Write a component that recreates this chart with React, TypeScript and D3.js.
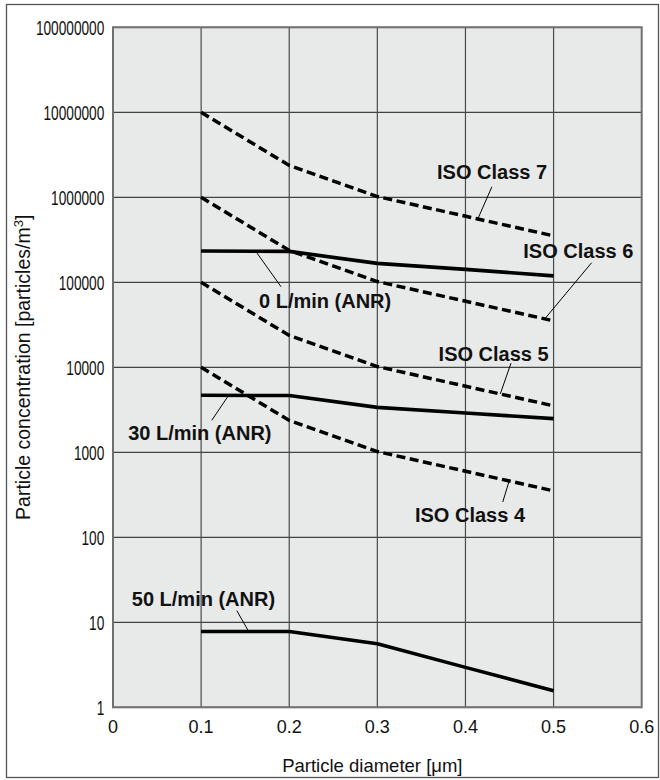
import React from "react";
import * as d3 from "d3";

// ---------- data ----------
const diameters = [0.1, 0.2, 0.3, 0.4, 0.5];
const isoDiameters = [0.1, 0.2, 0.3, 0.5];

const isoClass7 = [10000000, 2370000, 1020000, 352000];
const isoClass6 = [1000000, 237000, 102000, 35200];
const isoClass5 = [100000, 23700, 10200, 3520];
const isoClass4 = [10000, 2370, 1020, 352];

const flow0 = [233000, 231000, 167000, 142000, 119000];
const flow30 = [4690, 4650, 3380, 2900, 2490];
const flow50 = [7.8, 7.8, 5.6, 2.95, 1.57];

const xTicks = [0, 0.1, 0.2, 0.3, 0.4, 0.5, 0.6];
const yTicks = [1, 10, 100, 1000, 10000, 100000, 1000000, 10000000, 100000000];
const yTickLabels = ["1", "10", "100", "1000", "10000", "100000", "1000000", "10000000", "100000000"];

// annotations: anchor x on series, leader end (lx, ly), text start (tx, ty), all in data units
const annotations = [
  { label: "ISO Class 7", xs: isoDiameters, ys: isoClass7, ax: 0.414, lx: 0.43, ly: 1330000, tx: 0.3677, ty: 1630000 },
  { label: "ISO Class 6", xs: isoDiameters, ys: isoClass6, ax: 0.49, lx: 0.5432, ly: 170000, tx: 0.4656, ty: 191000 },
  { label: "0 L/min (ANR)", xs: diameters, ys: flow0, ax: 0.162, lx: 0.1907, ly: 88700, tx: 0.1657, ty: 49400 },
  { label: "ISO Class 5", xs: isoDiameters, ys: isoClass5, ax: 0.4395, lx: 0.4517, ly: 11200, tx: 0.3695, ty: 12000 },
  { label: "30 L/min (ANR)", xs: diameters, ys: flow30, ax: 0.1312, lx: 0.1121, ly: 2377, tx: 0.0172, ty: 1409 },
  { label: "ISO Class 4", xs: isoDiameters, ys: isoClass4, ax: 0.4496, lx: 0.4423, ly: 260, tx: 0.3427, ty: 150 },
  { label: "50 L/min (ANR)", xs: diameters, ys: flow50, ax: 0.154, lx: 0.1405, ly: 13.7, tx: 0.0213, ty: 15.4 },
];

const dashedSeries = [isoClass7, isoClass6, isoClass5, isoClass4];
const solidSeries = [flow0, flow30, flow50];

// ---------- layout ----------
const W = 660;
const H = 780;
const plot = { left: 113, right: 641.7, top: 27.3, bottom: 707.3 };

const x = d3.scaleLinear().domain([0, 0.6]).range([plot.left, plot.right]);
const y = d3.scaleLog().domain([1, 100000000]).range([plot.bottom, plot.top]);

function interpLog(xs: number[], ys: number[], xv: number) {
  for (let i = 0; i < xs.length - 1; i++) {
    if (xv >= xs[i] && xv <= xs[i + 1]) {
      const t = (xv - xs[i]) / (xs[i + 1] - xs[i]);
      return Math.pow(10, Math.log10(ys[i]) * (1 - t) + Math.log10(ys[i + 1]) * t);
    }
  }
  return ys[ys.length - 1];
}

const FONT = "'Liberation Sans', Arial, Helvetica, sans-serif";

export default function App() {
  const line = d3
    .line<[number, number]>()
    .x((d) => x(d[0]))
    .y((d) => y(d[1]));

  return (
    <svg width={W} height={H} style={{ position: "absolute", left: 0, top: 0, display: "block" }} fontFamily={FONT}>
      <rect x={0} y={0} width={W} height={H} fill="#ffffff" />
      {/* outer frame */}
      <rect x={6.5} y={4.5} width={652} height={773} fill="none" stroke="#555" strokeWidth={1.3} />

      {/* plot background */}
      <rect
        x={plot.left}
        y={plot.top}
        width={plot.right - plot.left}
        height={plot.bottom - plot.top}
        fill="#e8e9e9"
      />

      {/* horizontal grid */}
      {yTicks.map((t) => (
        <line key={"h" + t} x1={plot.left} x2={plot.right} y1={y(t)} y2={y(t)} stroke="#1a1a1a" strokeWidth={1} />
      ))}
      {/* vertical grid */}
      {xTicks.slice(1, -1).map((t) => (
        <line key={"v" + t} x1={x(t)} x2={x(t)} y1={plot.top} y2={plot.bottom} stroke="#4a4a4a" strokeWidth={1.2} />
      ))}

      {/* plot border */}
      <rect
        x={plot.left}
        y={plot.top}
        width={plot.right - plot.left}
        height={plot.bottom - plot.top}
        fill="none"
        stroke="#707070"
        strokeWidth={2}
      />

      {/* dashed ISO class lines */}
      {dashedSeries.map((s, i) => (
        <path
          key={"d" + i}
          d={line(isoDiameters.map((d, j) => [d, s[j]] as [number, number])) || ""}
          fill="none"
          stroke="#000"
          strokeWidth={3.5}
          strokeDasharray="9,4.5"
        />
      ))}

      {/* solid flow lines */}
      {solidSeries.map((s, i) => (
        <path
          key={"s" + i}
          d={line(diameters.map((d, j) => [d, s[j]] as [number, number])) || ""}
          fill="none"
          stroke="#000"
          strokeWidth={3.6}
          strokeLinejoin="round"
        />
      ))}

      {/* annotations */}
      {annotations.map((a) => {
        const ay = interpLog(a.xs, a.ys, a.ax);
        return (
          <g key={a.label}>
            <line x1={x(a.ax)} y1={y(ay)} x2={x(a.lx)} y2={y(a.ly)} stroke="#000" strokeWidth={1} />
            <text x={x(a.tx)} y={y(a.ty)} fontSize={20} fontWeight="bold" fill="#111">
              {a.label}
            </text>
          </g>
        );
      })}

      {/* y tick labels */}
      {yTicks.map((t, i) => (
        <text
          key={"yl" + t}
          x={104.3}
          y={y(t)}
          dy="0.36em"
          textAnchor="end"
          fontSize={20}
          fill="#111"
          textLength={yTickLabels[i].length * 7.6}
          lengthAdjust="spacingAndGlyphs"
        >
          {yTickLabels[i]}
        </text>
      ))}

      {/* x tick labels */}
      {xTicks.map((t) => (
        <text key={"xl" + t} x={x(t)} y={733} textAnchor="middle" fontSize={18} fill="#111">
          {t === 0 ? "0" : t.toFixed(1)}
        </text>
      ))}

      {/* axis titles */}
      <text x={(plot.left + plot.right) / 2 - 5} y={772} textAnchor="middle" fontSize={18.5} fill="#111">
        Particle diameter [μm]
      </text>
      <text
        transform={`translate(30, ${(plot.top + plot.bottom) / 2}) rotate(-90)`}
        textAnchor="middle"
        fontSize={19.5}
        fill="#111"
      >
        Particle concentration [particles/m
        <tspan fontSize={13} dy={-7}>
          3
        </tspan>
        <tspan dy={7}>]</tspan>
      </text>
    </svg>
  );
}
